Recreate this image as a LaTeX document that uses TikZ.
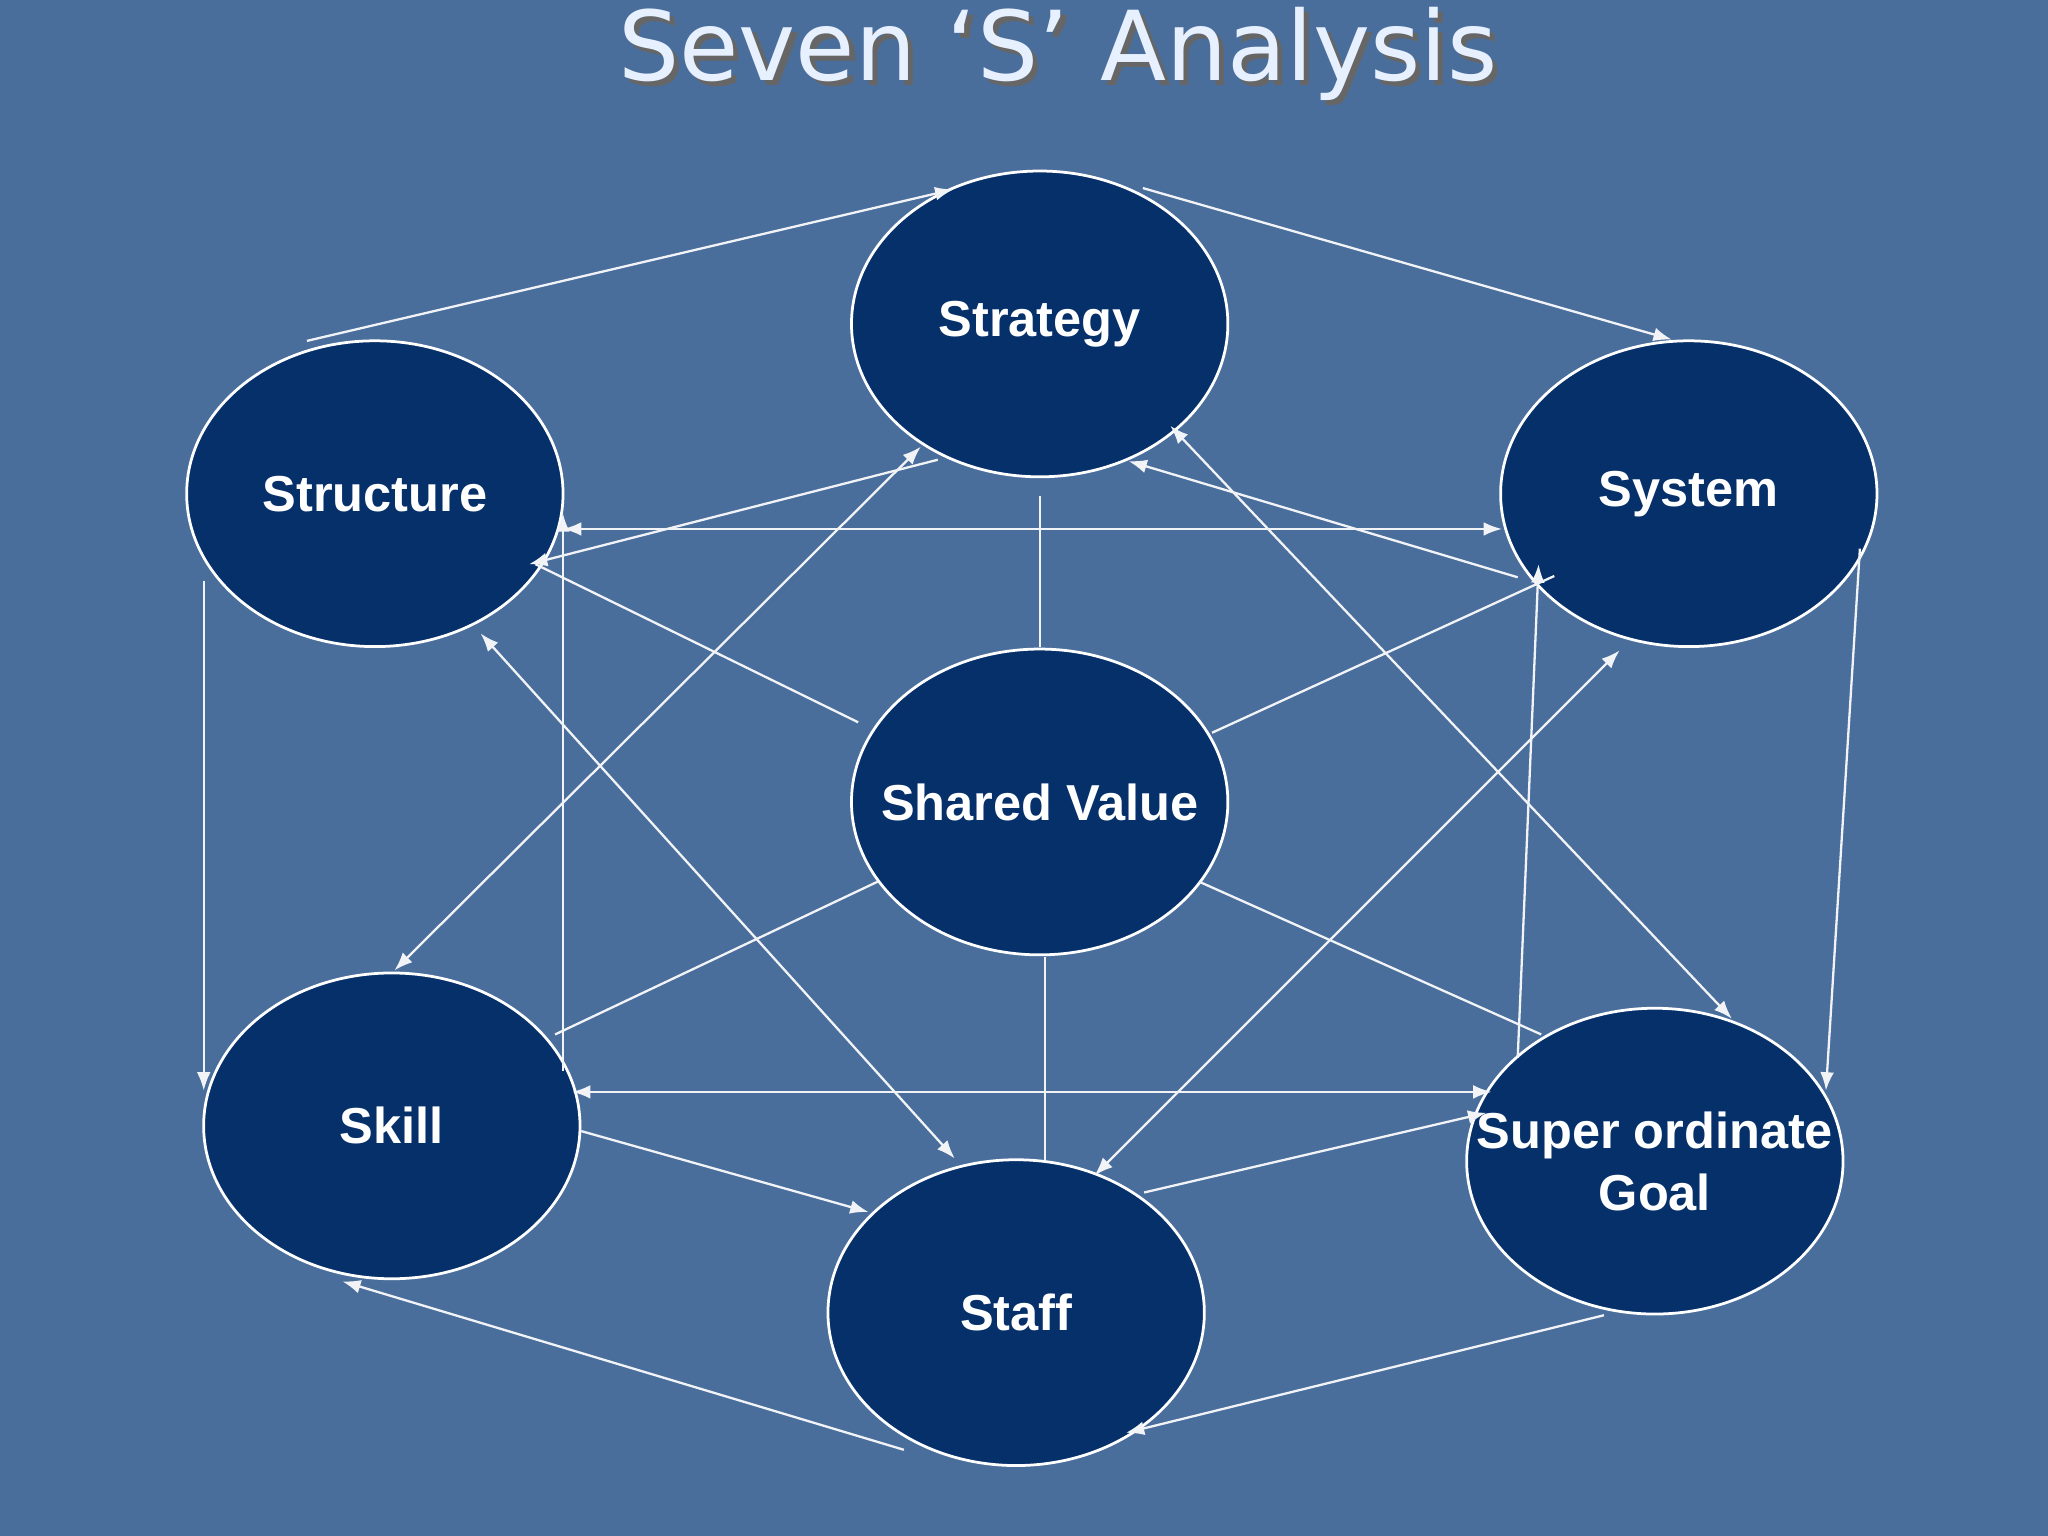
\documentclass[tikz,border=0pt]{standalone}
\usepackage{fontspec}
\setmainfont{Liberation Sans}
\newfontfamily\titlefont{DejaVu Sans}
\usetikzlibrary{shapes.geometric,arrows.meta}
\definecolor{bg}{HTML}{4A6E9C}
\definecolor{navy}{HTML}{06306A}
\definecolor{ttl}{HTML}{E6F0FF}
\tikzset{
 oval/.style={ellipse,draw=white,line width=0.6pt,fill=navy,minimum width=2.88cm,minimum height=2.34cm,inner sep=0pt},
 ovtext/.style={text=white,font=\bfseries\fontsize{11}{13.5}\selectfont,align=center,inner sep=0pt},
 ln/.style={draw=white!92!bg,line width=0.5pt},
 ar/.style={ln,-{Latex[length=4pt,width=3pt]}},
 dar/.style={ln,{Latex[length=4pt,width=3pt]}-{Latex[length=4pt,width=3pt]}}
}
\begin{document}
\begin{tikzpicture}[x=0.01cm,y=-0.01cm]
\fill[bg] (0,0) rectangle (1568,1176);
\useasboundingbox (0,0) rectangle (1568,1176);
\node[text=black!60,font=\titlefont\fontsize{21}{24}\selectfont] at (814,45) {Seven ‘S’ Analysis};
\node (title) [text=ttl,font=\titlefont\fontsize{21}{24}\selectfont] at (810,41) {Seven ‘S’ Analysis};
\foreach \n/\x/\y/\t in {strat/796/248/Strategy,struc/287/378/Structure,sys/1293/378/System,sv/796/614/Shared Value,skill/300/862/Skill,staff/778/1005/Staff}{
 \node[oval] (\n) at (\x,\y) {};
 \node[ovtext] (\n-t) at (\x,\y) {\t};
}
\node[oval] (goal) at (1267,889) {};
\node[ovtext] (goal-t) at (1267,889) {Super ordinate\\Goal};
\foreach \n/\x/\y in {a1/235/261,a2/730/145,b1/875/144,b2/1280/260,c1/1424/420,c2/1398/835,
 d1/1228/1007,d2/862/1097,e1/692/1110,e2/262/981,f1/156/445,f2/156/835,g1/431/820,g2/431/393,
 h1/431/405,h2/1150/405,i1/438/836,i2/1142/836,j1/718/352,j2/405/432,k1/1162/442,k2/864/353,
 l1/1162/810,l2/1178/432,m1/876/913,m2/1138/852,n1/445/866,n2/665/928,
 o1/302/743,o2/705/342,p1/368/485,p2/731/887,q1/896/326,q2/1326/780,r1/838/900,r2/1240/498,
 s1/796/380,s2/796/495,t1/800/733,t2/800/888,u1/657/553,u2/410/432,v1/928/561,v2/1190/441,
 w1/672/675,w2/425/792,z1/918/675,z2/1180/792}
 \coordinate (\n) at (\x,\y);
\foreach \a/\b in {a1/a2,b1/b2,c1/c2,d1/d2,e1/e2,f1/f2,g1/g2,j1/j2,k1/k2,l1/l2,m1/m2,n1/n2}
 \draw[ar] (\a) -- (\b);
\foreach \a/\b in {h1/h2,i1/i2,o1/o2,p1/p2,q1/q2,r1/r2}
 \draw[dar] (\a) -- (\b);
\foreach \a/\b in {s1/s2,t1/t2,u1/u2,v1/v2,w1/w2,z1/z2}
 \draw[ln] (\a) -- (\b);
\end{tikzpicture}
\end{document}
